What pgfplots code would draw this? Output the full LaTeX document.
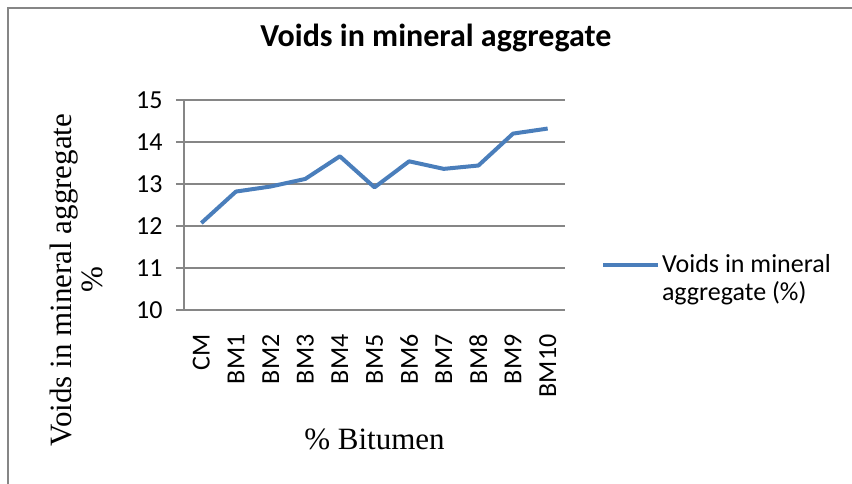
\documentclass[border=0pt]{standalone}
\usepackage{fontspec}
\setmainfont{Carlito}
\newfontfamily\tnr{Liberation Serif}
\usepackage{pgfplots}
\pgfplotsset{compat=1.18}

\definecolor{xlblue}{RGB}{74,126,187}
\definecolor{xlgrid}{RGB}{134,134,134}

\begin{document}
\begin{tikzpicture}[x=1pt,y=1pt]
\useasboundingbox (0,0) rectangle (852,484);
% chart frame (only left and top edges visible)
\draw[xlgrid,line width=1.5pt] (8,-2) -- (8,476) -- (860,476);
\begin{axis}[
   at={(184pt,174pt)}, anchor=south west,
   width=381pt, height=210pt, scale only axis,
   xmin=-0.5, xmax=10.5,
   ymin=10, ymax=15,
   axis x line=bottom, axis y line=left,
   axis line style={-, xlgrid, line width=1.5pt},
   xtick={0,...,10},
   xticklabels={CM,BM1,BM2,BM3,BM4,BM5,BM6,BM7,BM8,BM9,BM10},
   x tick style={draw=none},
   extra x ticks={-0.5,0.5,...,10.5},
   extra x tick labels={},
   extra x tick style={major tick length=8pt, tick align=outside,
       tick style={xlgrid, line width=1.5pt}, grid=none},
   ytick={10,11,...,15},
   y tick style={xlgrid, line width=1.5pt},
   major tick length=8pt, tick align=outside,
   ymajorgrids, grid style={xlgrid, line width=1.5pt},
   /pgf/number format/assume math mode=true,
   tick label style={font=\fontsize{26}{30}\selectfont, black},
   xticklabel style={rotate=90, anchor=east, xshift=-13pt},
   yticklabel style={anchor=east, xshift=-10pt},
   title={Voids in mineral aggregate},
   title style={font=\fontsize{32}{36}\selectfont\bfseries,
       at={(rel axis cs:0.661,1.224)}, anchor=base},
   xlabel={\% Bitumen},
   xlabel style={font=\fontsize{31}{35}\selectfont\tnr,
       at={(rel axis cs:0.5,-0.662)}, anchor=base},
   ylabel={Voids in mineral aggregate\\\%},
   ylabel style={font=\fontsize{31}{31}\selectfont\tnr, align=center,
       at={(rel axis cs:-0.283,0.143)}, anchor=center, rotate=0},
   legend style={at={(axis description cs:1.094,0.283)}, anchor=north west,
       draw=none, fill=none, font=\fontsize{26}{28}\selectfont,
       inner sep=0pt},
   legend cell align=left,
   legend image code/.code={\draw[#1] (0pt,-2pt) -- (55pt,-2pt);},
   clip=false,
]
\addplot[color=xlblue, line width=4pt, line join=round]
  coordinates {(0,12.07) (1,12.82) (2,12.94) (3,13.12) (4,13.66) (5,12.92)
   (6,13.54) (7,13.36) (8,13.44) (9,14.20) (10,14.32)};
\addlegendentry{\begin{tabular}[t]{@{}l@{}}Voids in mineral\\aggregate (\%)\end{tabular}}
\end{axis}
\end{tikzpicture}
\end{document}
